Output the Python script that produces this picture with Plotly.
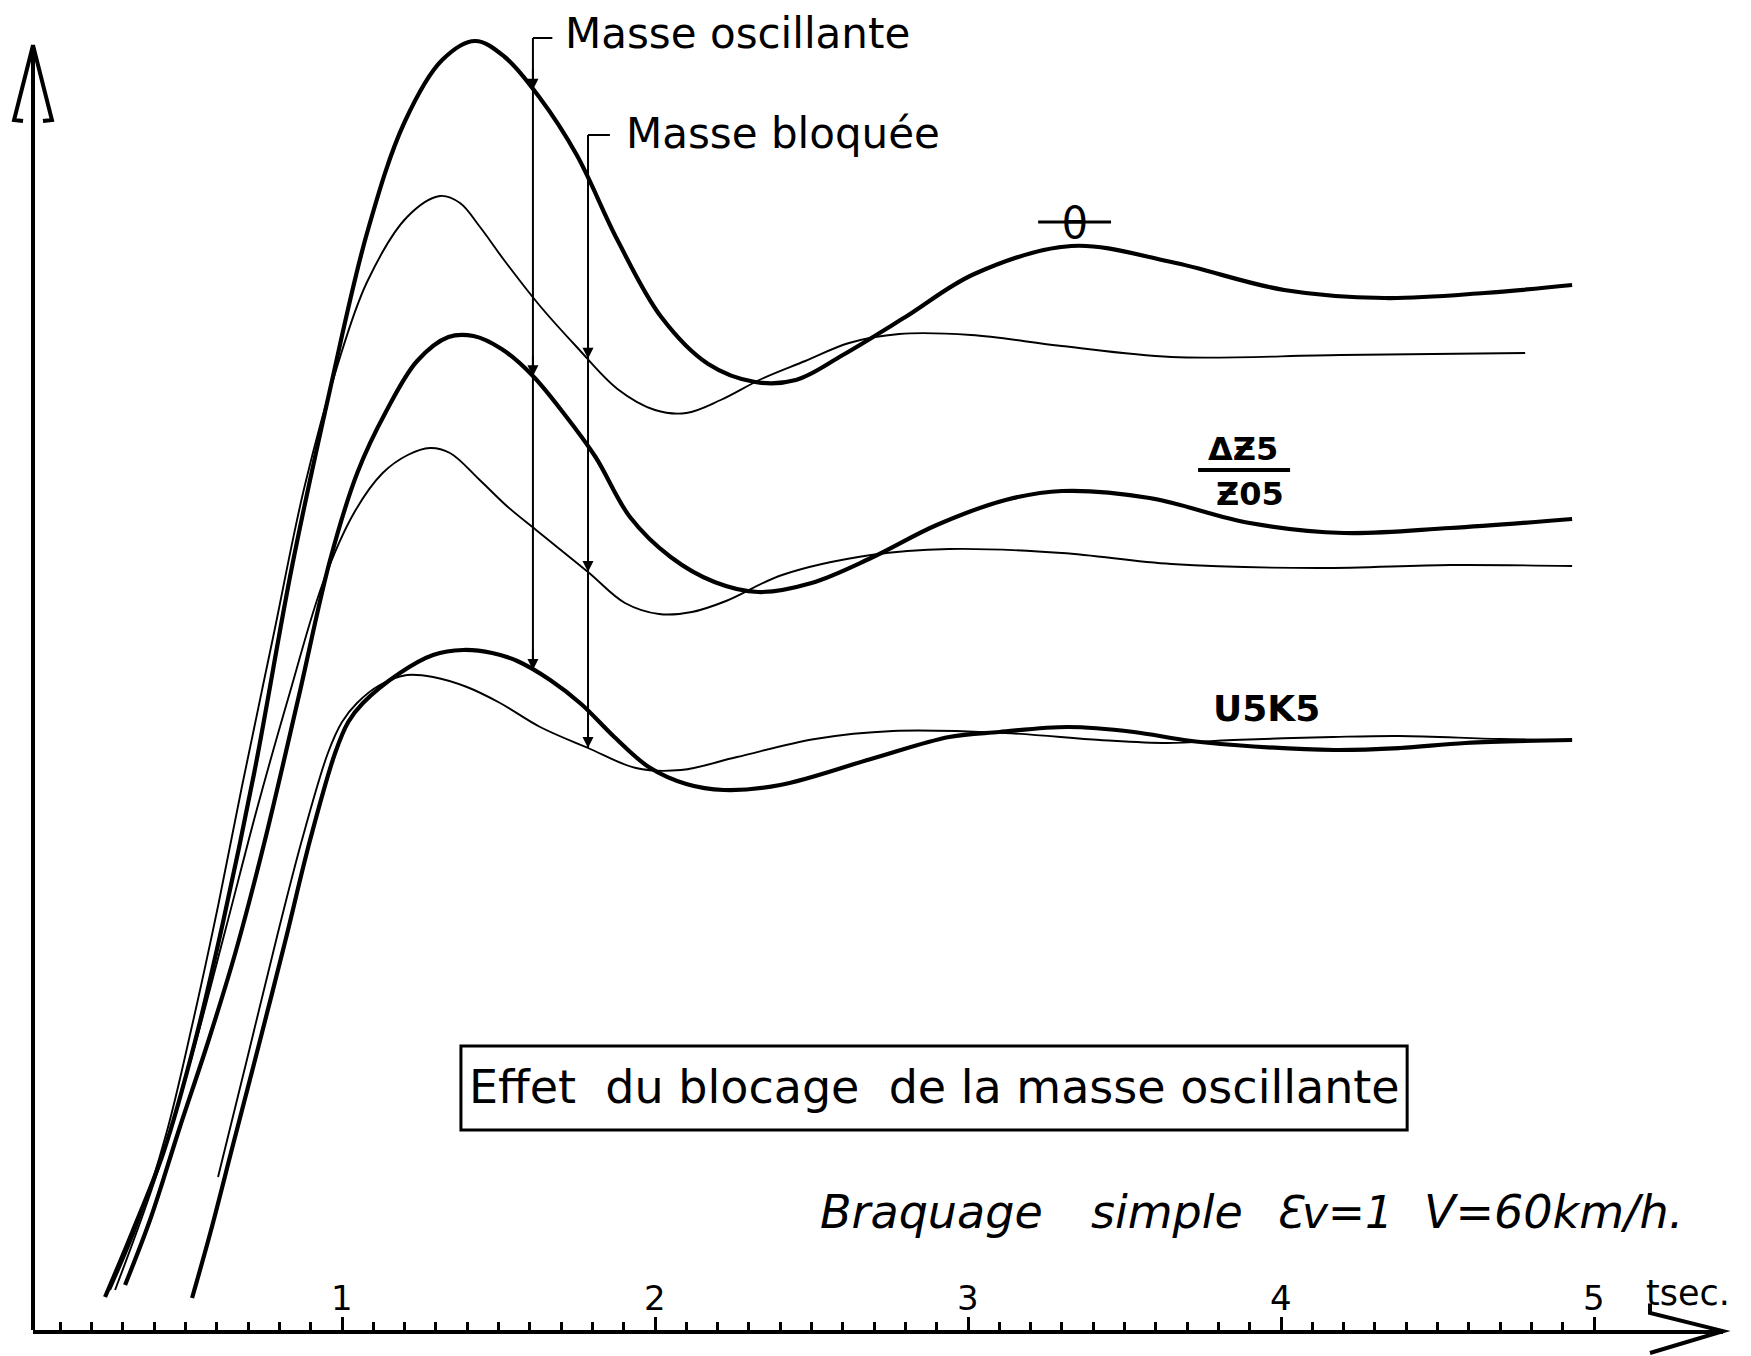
import numpy as np
import plotly.graph_objects as go

# ---------------- data (t in seconds, y in arbitrary drawing units) ----------------
# theta, oscillating mass (thick)
t_theta_osc = [0.243, 0.33, 0.43, 0.53, 0.62, 0.72, 0.84, 0.96, 1.08, 1.20, 1.32, 1.425,
               1.52, 1.63, 1.75, 1.88, 2.02, 2.17, 2.32, 2.45, 2.60, 2.80, 3.02, 3.33,
               3.65, 4.01, 4.33, 4.65, 4.93]
y_theta_osc = [0.30, 0.95, 1.75, 2.85, 4.05, 5.55, 7.60, 9.35, 10.94, 12.05, 12.67, 12.86,
               12.70, 12.30, 11.72, 10.87, 10.10, 9.63, 9.45, 9.47, 9.72, 10.10, 10.53, 10.81,
               10.65, 10.37, 10.29, 10.34, 10.42]

# theta, blocked mass (thin)
t_theta_blk = [0.259, 0.35, 0.44, 0.52, 0.60, 0.68, 0.78, 0.88, 0.984, 1.08, 1.208, 1.313,
               1.377, 1.441, 1.52, 1.63, 1.75, 1.88, 2.00, 2.10, 2.21, 2.34, 2.48, 2.62,
               2.78, 3.01, 3.30, 3.65, 4.19, 4.78]
y_theta_blk = [0.37, 1.05, 1.95, 3.00, 4.15, 5.40, 6.90, 8.40, 9.60, 10.45, 11.10, 11.31,
               11.24, 11.00, 10.66, 10.22, 9.80, 9.38, 9.17, 9.14, 9.27, 9.48, 9.66, 9.84,
               9.93, 9.92, 9.81, 9.70, 9.72, 9.74]

# dZ5/Z05, oscillating mass (thick)
t_dz_osc = [0.307, 0.39, 0.48, 0.572, 0.66, 0.754, 0.86, 0.962, 1.05, 1.14, 1.24, 1.34,
            1.42, 1.51, 1.607, 1.71, 1.81, 1.92, 2.05, 2.19, 2.33, 2.50, 2.69, 2.90,
            3.12, 3.30, 3.58, 3.90, 4.20, 4.54, 4.93]
y_dz_osc = [0.42, 1.10, 1.98, 2.85, 3.75, 4.87, 6.28, 7.67, 8.55, 9.15, 9.66, 9.90,
            9.91, 9.78, 9.52, 9.13, 8.70, 8.10, 7.70, 7.45, 7.35, 7.44, 7.69, 8.02,
            8.27, 8.36, 8.29, 8.04, 7.94, 7.99, 8.08]

# dZ5/Z05, blocked mass (thin)
t_dz_blk = [0.275, 0.40, 0.52, 0.63, 0.73, 0.834, 0.94, 1.04, 1.13, 1.21, 1.281, 1.345,
            1.44, 1.53, 1.62, 1.786, 1.904, 2.013, 2.118, 2.227, 2.406, 2.69, 2.94, 3.30,
            3.65, 4.12, 4.54, 4.93]
y_dz_blk = [0.37, 1.45, 2.70, 4.00, 5.20, 6.35, 7.45, 8.15, 8.54, 8.72, 8.79, 8.74,
            8.47, 8.20, 7.97, 7.55, 7.24, 7.13, 7.15, 7.26, 7.52, 7.72, 7.78, 7.74,
            7.63, 7.59, 7.62, 7.61]

# U5K5, oscillating mass (thick)
t_uk_osc = [0.521, 0.58, 0.65, 0.722, 0.818, 0.898, 0.978, 1.02, 1.067, 1.185, 1.291, 1.387,
            1.48, 1.56, 1.665, 1.764, 1.87, 1.98, 2.10, 2.22, 2.40, 2.69, 2.94, 3.10,
            3.32, 3.53, 3.69, 3.85, 4.17, 4.38, 4.59, 4.93]
y_uk_osc = [0.29, 0.95, 1.80, 2.67, 3.85, 4.87, 5.74, 6.05, 6.24, 6.54, 6.72, 6.77,
            6.74, 6.66, 6.47, 6.23, 5.90, 5.60, 5.43, 5.37, 5.42, 5.68, 5.90, 5.95,
            6.00, 5.95, 5.87, 5.82, 5.77, 5.79, 5.84, 5.87]

# U5K5, blocked mass (thin)
t_uk_blk = [0.604, 0.696, 0.792, 0.872, 0.955, 1.00, 1.048, 1.121, 1.208, 1.291, 1.399, 1.505,
            1.633, 1.786, 1.939, 2.083, 2.262, 2.511, 2.76, 3.118, 3.422, 3.636, 3.847, 4.166,
            4.38, 4.70, 4.93]
y_uk_blk = [1.50, 2.67, 3.90, 4.87, 5.74, 6.05, 6.24, 6.42, 6.52, 6.50, 6.40, 6.24,
            6.00, 5.79, 5.59, 5.57, 5.70, 5.88, 5.96, 5.94, 5.87, 5.84, 5.87, 5.90,
            5.91, 5.88, 5.87]

tick_vals = [1, 2, 3, 4, 5]
tick_labels = ["1", "2", "3", "4", "5"]
minor_tick_vals = [v / 10 for v in range(1, 50) if v % 10]

t_mark_osc = 1.61    # time where the "Masse oscillante" pointer is drawn
t_mark_blk = 1.786   # time where the "Masse bloquée" pointer is drawn

FONT = "DejaVu Sans"
THICK = 4.2
THIN = 1.9

fig = go.Figure()

curves = [
    (t_theta_osc, y_theta_osc, THICK),
    (t_theta_blk, y_theta_blk, THIN),
    (t_dz_osc, y_dz_osc, THICK),
    (t_dz_blk, y_dz_blk, THIN),
    (t_uk_osc, y_uk_osc, THICK),
    (t_uk_blk, y_uk_blk, THIN),
]
for tx, ty, w in curves:
    fig.add_trace(go.Scatter(
        x=tx, y=ty, mode="lines",
        line=dict(color="black", width=w, shape="spline", smoothing=1.0),
        showlegend=False, hoverinfo="skip"))

shapes = []
annotations = []

# pointer lines with brackets
osc_targets = [np.interp(t_mark_osc, t_theta_osc, y_theta_osc),
               np.interp(t_mark_osc, t_dz_osc, y_dz_osc),
               np.interp(t_mark_osc, t_uk_osc, y_uk_osc)]
blk_targets = [np.interp(t_mark_blk, t_theta_blk, y_theta_blk),
               np.interp(t_mark_blk, t_dz_blk, y_dz_blk),
               np.interp(t_mark_blk, t_uk_blk, y_uk_blk)]

for tm, ytop, targets, blen in [(t_mark_osc, 12.89, osc_targets, 0.062),
                                (t_mark_blk, 11.92, blk_targets, 0.07)]:
    shapes.append(dict(type="line", xref="x", yref="y", x0=tm, x1=tm, y0=ytop, y1=min(targets),
                       line=dict(color="black", width=2)))
    shapes.append(dict(type="line", xref="x", yref="y", x0=tm, x1=tm + blen, y0=ytop, y1=ytop,
                       line=dict(color="black", width=2)))
    for yt in targets:
        annotations.append(dict(x=tm, y=yt, xref="x", yref="y", text="", showarrow=True,
                                arrowhead=2, arrowsize=1.1, arrowwidth=2, arrowcolor="black",
                                ax=0, ay=-22, standoff=0))

# y axis with arrow (paper coords: x px 33..1723, y px 1330..0)
shapes.append(dict(type="line", xref="paper", yref="paper", x0=0, x1=0, y0=0, y1=0.9647,
                   line=dict(color="black", width=4)))
shapes.append(dict(type="path", xref="paper", yref="paper",
                   path="M -0.0059,0.9090 L -0.0112,0.9098 L 0,0.9660 L 0.0112,0.9098 L 0.0059,0.9090",
                   line=dict(color="black", width=4)))
# x axis arrow head
shapes.append(dict(type="path", xref="paper", yref="paper",
                   path="M 0.9568,0.0200 L 0.9568,0.0128 L 1.0,-0.0008 L 0.9568,-0.0173",
                   line=dict(color="black", width=4)))

# theta symbol bar
shapes.append(dict(type="line", xref="x", yref="y", x0=3.224, x1=3.457, y0=11.05, y1=11.05,
                   line=dict(color="black", width=3)))
# fraction bar
shapes.append(dict(type="line", xref="x", yref="y", x0=3.735, x1=4.029, y0=8.57, y1=8.57,
                   line=dict(color="black", width=4)))
# title box
shapes.append(dict(type="rect", xref="x", yref="y", x0=1.380, x1=4.403, y0=1.97, y1=2.81,
                   line=dict(color="black", width=3)))

def txt(x, y, s, size, xanchor="center", bold=False, italic=False):
    annotations.append(dict(x=x, y=y, xref="x", yref="y", text=s, showarrow=False,
                            xanchor=xanchor, yanchor="middle",
                            font=dict(family=FONT, size=size, color="black",
                                      weight="bold" if bold else "normal",
                                      style="italic" if italic else "normal")))

txt(1.705, 12.94, "Masse oscillante", 42, xanchor="left")
txt(1.900, 11.94, "Masse bloquée", 42, xanchor="left")
txt(3.342, 11.04, "θ", 42)
txt(3.879, 8.78, "ΔƵ5", 32, bold=True)
txt(3.901, 8.33, "Ƶ05", 32, bold=True)
txt(3.955, 6.19, "U5K5", 36, bold=True)
txt(2.893, 2.40, "Effet  du blocage  de la masse oscillante", 46)
txt(2.521, 1.15, "Braquage", 46, xanchor="left", italic=True)
txt(3.387, 1.15, "simple", 46, xanchor="left", italic=True)
txt(3.974, 1.15, "Ɛv=1", 44, xanchor="left", italic=True)
txt(4.450, 1.15, "V=60km/h.", 46, xanchor="left", italic=True)
txt(5.300, 0.34, "tsec.", 35)
for tv, tl in zip(tick_vals, tick_labels):
    txt(tv, 0.29, tl, 34)

fig.update_layout(
    width=1751, height=1356,
    margin=dict(l=33, r=28, t=0, b=26),
    paper_bgcolor="white", plot_bgcolor="white",
    showlegend=False,
    font=dict(family=FONT, color="black"),
    shapes=shapes, annotations=annotations,
    xaxis=dict(range=[0.01278, 5.4121], showgrid=False, zeroline=False,
               showline=True, linecolor="black", linewidth=4,
               tickmode="array", tickvals=tick_vals,
               ticks="inside", ticklen=13, tickwidth=3, tickcolor="black",
               showticklabels=False,
               minor=dict(tickmode="array", tickvals=minor_tick_vals, ticks="inside",
                          ticklen=8, tickwidth=3, tickcolor="black", showgrid=False)),
    yaxis=dict(range=[-0.03, 13.27], visible=False, showgrid=False, zeroline=False),
)

fig.write_html("out.html",
               config={"displayModeBar": False},
               post_script="document.body.style.margin='0';document.body.style.overflow='hidden';")
